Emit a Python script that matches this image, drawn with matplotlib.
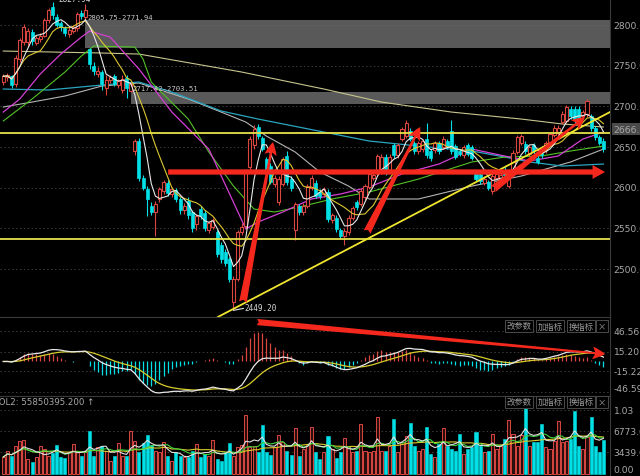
import numpy as np
import pandas as pd
import matplotlib
matplotlib.use("Agg")
import matplotlib.pyplot as plt
import matplotlib.transforms as mtransforms
from matplotlib.patches import Rectangle

# ---------------- data ----------------
opens = [2730, 2736, 2737, 2727, 2758, 2779, 2779, 2792, 2778, 2783,
         2787, 2806, 2822, 2810, 2802, 2796, 2789, 2793, 2796, 2815,
         2810, 2770, 2750, 2740, 2742, 2722, 2732, 2737, 2726, 2720,
         2735, 2719, 2645, 2658, 2612, 2598, 2578, 2570, 2586, 2596,
         2606, 2592, 2597, 2586, 2572, 2584, 2570, 2555, 2574, 2569,
         2548, 2552, 2545, 2530, 2521, 2512, 2460, 2488, 2545, 2553,
         2625, 2652, 2675, 2661, 2635, 2627, 2605, 2583, 2605, 2639,
         2611, 2548, 2577, 2570, 2578, 2600, 2606, 2595, 2592, 2595,
         2560, 2563, 2548, 2541, 2545, 2563, 2582, 2580, 2588, 2601,
         2612, 2618, 2620, 2638, 2622, 2652, 2640, 2660, 2664, 2670,
         2655, 2645, 2647, 2660, 2645, 2646, 2655, 2650, 2657, 2670,
         2651, 2645, 2640, 2652, 2650, 2617, 2617, 2606, 2607, 2596,
         2612, 2610, 2622, 2602, 2619, 2644, 2655, 2654, 2642, 2652,
         2637, 2648, 2646, 2654, 2665, 2668, 2681, 2682, 2697, 2697,
         2697, 2688, 2690, 2688, 2673, 2662, 2658]
highs = [2740, 2741, 2739, 2763, 2784, 2801, 2796, 2795, 2788, 2790,
         2809, 2821, 2827.94, 2814, 2805, 2799, 2797, 2800, 2816, 2818,
         2826, 2771.94, 2754, 2748, 2745, 2738, 2739, 2740, 2734, 2738,
         2738, 2730, 2660, 2661, 2615, 2602, 2583, 2584, 2601, 2610,
         2609, 2601, 2600, 2589, 2581, 2588, 2572, 2568, 2578, 2572,
         2559, 2563, 2548, 2533, 2524, 2515, 2492, 2548, 2556, 2623,
         2663, 2677, 2678, 2664, 2638, 2630, 2616, 2614, 2638, 2645,
         2614, 2583, 2580, 2581, 2605, 2615, 2609, 2598, 2601, 2598,
         2569, 2566, 2551, 2550, 2566, 2578, 2585, 2599, 2605, 2620,
         2619, 2642, 2641, 2641, 2641, 2655, 2655, 2675, 2683, 2673,
         2658, 2658, 2660, 2680, 2648, 2658, 2658, 2663, 2660, 2683,
         2654, 2648, 2653, 2655, 2653, 2620, 2620, 2614, 2610, 2617,
         2620, 2619, 2625, 2623, 2646, 2665, 2666, 2657, 2653, 2655,
         2640, 2651, 2658, 2669, 2677, 2677, 2694, 2702, 2700, 2700,
         2700, 2696, 2709, 2691, 2676, 2665, 2661]
lows = [2726, 2731, 2722, 2724, 2755, 2776, 2774, 2776, 2775, 2779,
        2785, 2803, 2808, 2797, 2793, 2786, 2785, 2790, 2793, 2808,
        2805.75, 2746, 2739, 2736, 2720, 2714, 2729, 2725, 2722, 2717,
        2710, 2717.42, 2640, 2608, 2597, 2565, 2566, 2540, 2582, 2592,
        2590, 2588, 2582, 2568, 2568, 2562, 2546, 2548, 2562, 2547,
        2544, 2549, 2515, 2508, 2504, 2484, 2449.20, 2485, 2542, 2550,
        2621, 2648, 2660, 2645, 2615, 2604, 2601, 2579, 2602, 2603,
        2596, 2536, 2566, 2567, 2575, 2597, 2587, 2586, 2588, 2558,
        2556, 2546, 2537, 2530, 2542, 2560, 2573, 2577, 2585, 2598,
        2609, 2615, 2617, 2616, 2619, 2637, 2637, 2657, 2661, 2657,
        2642, 2642, 2644, 2637, 2633, 2643, 2642, 2647, 2647, 2642,
        2635, 2639, 2637, 2639, 2634, 2608, 2605, 2603, 2597, 2592,
        2609, 2607, 2612, 2599, 2616, 2641, 2652, 2642, 2639, 2642,
        2629, 2637, 2643, 2651, 2662, 2665, 2678, 2679, 2685, 2680,
        2677, 2685, 2687, 2670, 2659, 2652, 2644]
closes = [2737, 2738, 2726, 2760, 2781, 2798, 2793, 2780, 2784, 2786,
          2806, 2818, 2812, 2800, 2797, 2790, 2794, 2797, 2813, 2811,
          2818, 2752, 2743, 2744, 2727, 2733, 2736, 2728, 2731, 2734,
          2722, 2727, 2657, 2612, 2600, 2586, 2570, 2580, 2598, 2607,
          2594, 2598, 2586, 2572, 2578, 2566, 2550, 2565, 2565, 2551,
          2556, 2560, 2519, 2512, 2508, 2488, 2488, 2545, 2552, 2620,
          2660, 2672, 2664, 2648, 2619, 2607, 2612, 2611, 2635, 2607,
          2600, 2580, 2570, 2578, 2602, 2612, 2590, 2590, 2598, 2562,
          2566, 2549, 2541, 2547, 2563, 2575, 2576, 2596, 2602, 2617,
          2615, 2639, 2638, 2620, 2638, 2640, 2652, 2672, 2680, 2660,
          2645, 2655, 2657, 2640, 2636, 2655, 2645, 2660, 2650, 2645,
          2638, 2642, 2650, 2642, 2637, 2611, 2608, 2611, 2600, 2614,
          2617, 2616, 2615, 2620, 2643, 2662, 2663, 2645, 2650, 2645,
          2632, 2640, 2655, 2666, 2674, 2674, 2691, 2699, 2688, 2683,
          2680, 2693, 2707, 2673, 2662, 2655, 2647]
volumes = [2650, 3600, 2810, 4400, 5190, 5350, 2330, 1860, 2650, 4400,
           3920, 2810, 3290, 4560, 2650, 2490, 3450, 4720, 3450, 2810,
           3450, 6780, 2810, 4240, 4400, 3600, 2020, 2810, 4880, 2810,
           2810, 6780, 5190, 3450, 4880, 6150, 4560, 3600, 3450, 5030,
           2810, 2020, 3450, 2810, 2650, 2650, 3600, 4720, 2650, 3130,
           2810, 5350, 2330, 2020, 3450, 4880, 2810, 4240, 4560, 9320,
           4240, 4400, 3450, 7730, 3450, 2970, 4240, 6150, 5030, 3600,
           2970, 7260, 2810, 3920, 4720, 7420,
           3450, 2330, 3450, 5990, 3920, 2490, 3450, 5670, 4400, 3450,
           3600, 7890, 3600, 3450, 3600, 9000, 3600, 3600, 4400, 8690,
           3450, 5030, 5990, 8050, 4400, 3600, 3920, 7420, 3130, 2650,
           4720, 7260, 4400, 3920, 3600, 6300, 3130, 3920, 4240, 6620,
           4400, 3450, 3600, 6300, 3920, 4400, 5510, 8530, 6300, 4400,
           6150, 10430, 4400, 5030, 5030, 7890, 4240, 3920, 5190, 8370,
           5030, 5190, 5510, 9960, 4400, 3920, 5830, 9000, 4400, 3450,
           5350]

# moving-average lines (candle index, price)
ma20_idx = [0, 4, 9, 14, 19, 21, 26, 33, 41, 50, 59, 62, 68, 75, 82, 89, 97, 106, 114, 122, 128, 135, 141, 146]
ma20_val = [2693.0, 2709.0, 2739.8, 2764.3, 2785.2, 2792.6, 2785.2, 2745.9, 2693.0, 2647.5, 2549.2, 2557.8,
            2570.1, 2586.1, 2592.2, 2600.8, 2616.8, 2629.1, 2647.5, 2638.9, 2632.8, 2638.9, 2659.8, 2668.4]
ma30_idx = [0, 7, 15, 19, 22, 32, 34, 36, 45, 50, 56, 61, 66, 72, 80, 89, 101, 114, 122, 131, 138, 146]
ma30_val = [2682.0, 2709.0, 2742.2, 2761.9, 2774.2, 2772.9, 2758.2, 2729.9, 2684.4, 2643.9, 2602.0, 2573.8,
            2570.1, 2576.2, 2586.1, 2594.7, 2610.6, 2631.6, 2637.7, 2639.0, 2645.1, 2651.2]
ma60_idx = [0, 11, 24, 33, 41, 53, 62, 78, 89, 101, 114, 122, 128, 136, 146]
ma60_val = [2721.3, 2720.1, 2726.2, 2729.9, 2717.6, 2694.3, 2684.4, 2668.4, 2657.4, 2651.2, 2645.1, 2637.7,
            2631.6, 2626.6, 2629.1]
ma120_idx = [0, 7, 15, 24, 33, 45, 53, 59, 64, 71, 77, 84, 89, 101, 114, 126, 138, 146]
ma120_val = [2699.2, 2705.3, 2712.7, 2725.0, 2728.7, 2709.0, 2693.0, 2680.7, 2663.5, 2643.9, 2619.3, 2602.0,
             2586.1, 2586.1, 2602.0, 2614.3, 2631.6, 2647.5]
ma250_idx = [0, 24, 33, 58, 78, 92, 109, 126, 136, 146]
ma250_val = [2768.0, 2765.6, 2764.3, 2742.2, 2721.3, 2705.3, 2693.0, 2684.4, 2678.3, 2674.6]

# gaps (low, high, starting candle)
gap_low = [2771.94, 2703.51]
gap_high = [2805.75, 2717.42]
gap_start = [20, 31]
gap_labels = ["2805.75-2771.94", "2717.42-2703.51"]

# drawn lines
support_levels = [2667.0, 2537.0]
trend_x = [52.2, 147.6]
trend_y = [2441.0, 2693.0]
arrows_main = [((58.3, 2459.4), (65.6, 2656.0)),
               ((88.5, 2545.5), (101.4, 2674.6)),
               ((119.2, 2598.4), (141.5, 2686.9))]
harrow = ((40.1, 2619.3), (146.4, 2619.3))
macd_arrow = ((61.7, 61.2), (146.4, 11.6))

price_ticks = [2800, 2750, 2700, 2650, 2600, 2550, 2500]
macd_ticks = [46.56, 15.20, -15.22, -46.59]
vol_ticks = [10107, 6773, 3439, 0]
vol_tick_labels = ["1.03", "6773.00", "3439.00", "0.00"]

# ---------------- derived ----------------
n = len(closes)
idx = np.arange(n)
o = np.array(opens, float); c = np.array(closes, float)
h = np.array(highs, float); l = np.array(lows, float)
v = np.array(volumes, float)
up = c >= o
RED = "#d9473f"
CYAN = "#00e0e6"
cs = pd.Series(c)
ma5 = cs.rolling(5, min_periods=1).mean()
ma10 = cs.rolling(10, min_periods=1).mean()
dif = cs.ewm(span=12, adjust=False).mean() - cs.ewm(span=26, adjust=False).mean()
dea = dif.ewm(span=9, adjust=False).mean()
hist = 2 * (dif - dea)
vs = pd.Series(v)
vma5 = vs.rolling(5, min_periods=1).mean()
vma10 = vs.rolling(10, min_periods=1).mean()
vma20 = vs.rolling(20, min_periods=1).mean()

# ---------------- figure ----------------
W, H = 640, 477
fig = plt.figure(figsize=(6.4, 4.77), dpi=100, facecolor="black")
right = 610 / W
ax = fig.add_axes([0, 1 - 318 / H, right, 318 / H], facecolor="black")
axm = fig.add_axes([0, 1 - 397 / H, right, 79 / H], facecolor="black")
axv = fig.add_axes([0, 0, right, 80 / H], facecolor="black")
XL = (-0.8, 147.6)
for a in (ax, axm, axv):
    a.set_xlim(*XL)
    a.set_xticks([]); a.set_yticks([])
    for s in a.spines.values():
        s.set_visible(False)
    a.spines["right"].set_visible(True)
    a.spines["right"].set_color("#3a3a3a")
axm.spines["top"].set_visible(True); axm.spines["top"].set_color("#3a3a3a")
axv.spines["top"].set_visible(True); axv.spines["top"].set_color("#3a3a3a")

ax.set_ylim(2441, 2832)
axm.set_ylim(-53.5, 69)
axv.set_ylim(-365, 12339)

GRID = dict(color="#3c3c3c", lw=0.7, ls=(0, (1.5, 2.5)), zorder=0)
for t in price_ticks:
    ax.axhline(t, **GRID)
for t in macd_ticks:
    axm.axhline(t, **GRID)
for t in vol_ticks[:3]:
    axv.axhline(t, **GRID)

# gap boxes
for lo, hi, st, lab in zip(gap_low, gap_high, gap_start, gap_labels):
    ax.add_patch(Rectangle((st, lo), XL[1] - st, hi - lo, facecolor="#6a6a6a", edgecolor="none",
                           alpha=0.85, zorder=1))
    ax.text(st + 0.4, hi + 1, lab, color="#c8c8c8", fontsize=5.2, family="DejaVu Sans Mono",
            va="bottom", ha="left", zorder=6)

# MA lines
ax.plot(ma250_idx, ma250_val, color="#c9c48e", lw=0.8, zorder=2)
ax.plot(ma120_idx, ma120_val, color="#b4b4b4", lw=0.8, zorder=2)
ax.plot(ma60_idx, ma60_val, color="#2aa5bf", lw=0.9, zorder=2)
ax.plot(ma30_idx, ma30_val, color="#52c226", lw=0.8, zorder=2)
ax.plot(ma20_idx, ma20_val, color="#d43fd4", lw=0.9, zorder=2)
ax.plot(idx, ma10, color="#dcc832", lw=0.8, zorder=4)
ax.plot(idx, ma5, color="#e8e8e8", lw=0.8, zorder=4)

# candles
bw = 0.74
for i in range(n):
    col = RED if up[i] else CYAN
    top = max(o[i], c[i]); bot = min(o[i], c[i])
    ax.vlines(i, l[i], h[i], color=col, lw=0.8, zorder=3)
    hgt = max(top - bot, 0.6)
    if up[i]:
        ax.add_patch(Rectangle((i - bw / 2, bot), bw, hgt, facecolor="black", edgecolor=col, lw=0.8, zorder=3.5))
    else:
        ax.add_patch(Rectangle((i - bw / 2, bot), bw, hgt, facecolor=col, edgecolor=col, lw=0.5, zorder=3.5))

# horizontal support lines and trend line
for s in support_levels:
    ax.axhline(s, color="#e6e14a", lw=1.3, zorder=5)
ax.plot(trend_x, trend_y, color="#f0e630", lw=1.3, zorder=5, clip_on=True)

# arrows
for tail, tip in arrows_main:
    ax.annotate("", xy=tip, xytext=tail,
                arrowprops=dict(arrowstyle="fancy,head_length=0.85,head_width=0.8,tail_width=0.5",
                                fc="#f5281e", ec="none", shrinkA=0, shrinkB=0, mutation_scale=11),
                zorder=7)
ax.annotate("", xy=harrow[1], xytext=harrow[0],
            arrowprops=dict(arrowstyle="simple,head_length=0.9,head_width=1.0,tail_width=0.38",
                            fc="#f5281e", ec="none", shrinkA=0, shrinkB=0, mutation_scale=10),
            zorder=7)
axm.annotate("", xy=macd_arrow[1], xytext=macd_arrow[0],
             arrowprops=dict(arrowstyle="fancy,head_length=0.9,head_width=0.9,tail_width=0.45",
                             fc="#f5281e", ec="none", shrinkA=0, shrinkB=0, mutation_scale=10),
             zorder=7)

# extreme labels
ax.text(13.3, 2832.5, "2827.94", color="#d8d8d8", fontsize=5.5, family="DejaVu Sans Mono", va="center")
ax.plot([56, 58.4], [2449.2, 2451.5], color="#e0e0e0", lw=0.8, zorder=6)
ax.text(58.6, 2452.5, "2449.20", color="#d8d8d8", fontsize=5.5, family="DejaVu Sans Mono", va="center", zorder=6)

# right axis labels
TXT = "#a9a9a9"
def rlab(a, y, s, **kw):
    tr = mtransforms.blended_transform_factory(a.transAxes, a.transData)
    a.text(1.006, y, s, transform=tr, color=TXT, fontsize=6.6, va="center", ha="left", clip_on=False, **kw)
for t in price_ticks:
    rlab(ax, t, f"{t:.2f}")
rlab(ax, 2672, "2666.59", bbox=dict(boxstyle="square,pad=0.15", fc="#4a4a4a", ec="none"))
for t in macd_ticks:
    rlab(axm, t if t > -40 else -42.5, f"{t:.2f}")
for t, s in zip(vol_ticks, vol_tick_labels):
    rlab(axv, t if t > 0 else 650, s)

# MACD panel
hcol = [RED if x >= 0 else CYAN for x in hist]
axm.vlines(idx, 0, hist, colors=hcol, lw=0.9, zorder=2)
axm.plot(idx, dea, color="#d8cc2c", lw=0.9, zorder=3)
axm.plot(idx, dif, color="#e8e8e8", lw=0.9, zorder=3)

# volume panel
for i in range(n):
    col = RED if up[i] else CYAN
    if up[i]:
        axv.add_patch(Rectangle((i - bw / 2, 0), bw, v[i], facecolor="#2a0d0d", edgecolor=col, lw=0.7, zorder=2))
    else:
        axv.add_patch(Rectangle((i - bw / 2, 0), bw, v[i], facecolor=col, edgecolor=col, lw=0.4, zorder=2))
axv.plot(idx, vma20, color="#d8cc2c", lw=0.8, zorder=3)
axv.plot(idx, vma10, color="#3fd23f", lw=0.8, zorder=3)
axv.plot(idx, vma5, color="#e0e0e0", lw=0.8, zorder=3)
axv.text(-0.012, 0.93, "VOL2: 55850395.200 \u2191", transform=axv.transAxes, color=TXT, fontsize=6.2,
         va="center", ha="left")

# panel buttons
CJK = ["Noto Sans CJK SC", "DejaVu Sans"]
def buttons(a, yfrac):
    for x0, x1, s in [(505, 533, "改参数"), (536, 564, "加指标"), (567, 595, "换指标"), (597, 607, "×")]:
        a.text((x0 + x1) / 2 / 610, yfrac, s, transform=a.transAxes, color="#9a9a9a", fontsize=6.0,
               family=CJK, ha="center", va="center",
               bbox=dict(boxstyle="square,pad=0.18", fc="black", ec="#4a4a4a", lw=0.7))
buttons(axm, 0.885)
buttons(axv, 0.93)

fig.savefig("out.png", dpi=100, facecolor="black")
